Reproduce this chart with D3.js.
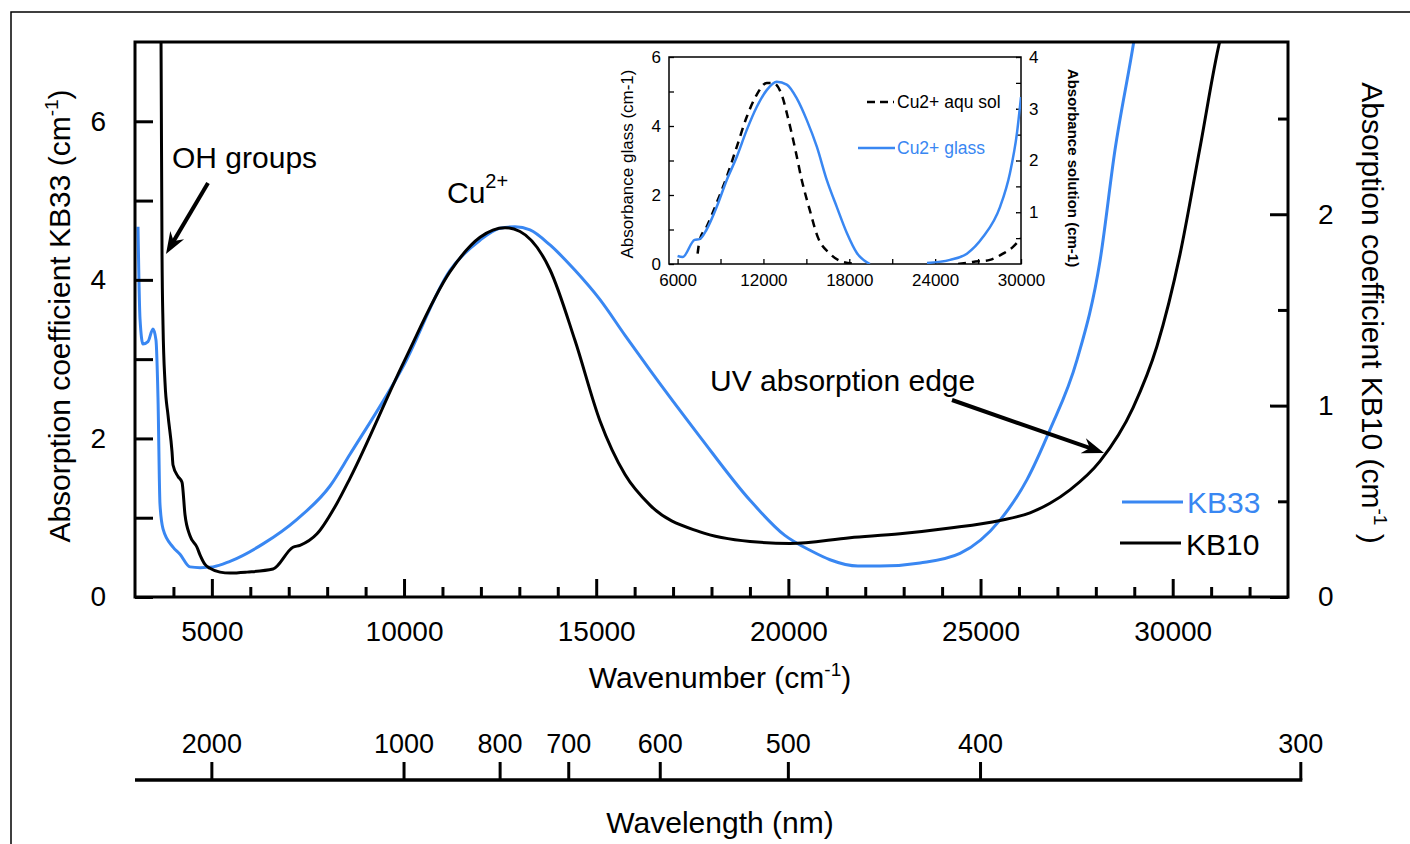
<!DOCTYPE html>
<html>
<head>
<meta charset="utf-8">
<script src="https://cdn.jsdelivr.net/npm/d3@7"></script>
<style>
  body { margin: 0; background: #fff; }
  svg { font-family: "Liberation Sans", Arial, sans-serif; }
</style>
</head>
<body>
<svg id="chart" width="1410" height="844"></svg>
<script>
// KB33 glass, left axis (cm-1)
var kb33Wn  = [3078, 3130, 3208, 3338, 3468, 3546, 3598, 3650, 3729, 3989, 4171, 4431, 4692, 5030, 5472, 6331, 7215, 8074, 8594, 10000, 11197, 11977, 12497, 12888, 13278, 13798, 14449, 15099, 15750, 16400, 17701, 19002, 19900, 20600, 21083, 21812, 22384, 23425, 24466, 25507, 26209, 26808, 27510, 28109, 28499, 28993, 29300];
var kb33Abs = [4.67, 3.51, 3.19, 3.22, 3.38, 3.24, 2.52, 1.17, 0.86, 0.63, 0.54, 0.38, 0.37, 0.38, 0.45, 0.67, 0.98, 1.40, 1.80, 2.93, 4.12, 4.50, 4.65, 4.67, 4.63, 4.44, 4.12, 3.75, 3.30, 2.86, 2.02, 1.22, 0.78, 0.58, 0.47, 0.39, 0.39, 0.43, 0.55, 0.97, 1.48, 2.11, 2.99, 4.24, 5.64, 7.02, 8.0];

// KB10 glass, right axis (cm-1)
var kb10Wn  = [3660, 3677, 3703, 3729, 3781, 3859, 3963, 3989, 4119, 4223, 4301, 4431, 4613, 4691, 4821, 4951, 5212, 5472, 5914, 6591, 7111, 7293, 7736, 8256, 8594, 10000, 11197, 11977, 12627, 13018, 13798, 14449, 15099, 15750, 16400, 17701, 19002, 20043, 21604, 22905, 24206, 25507, 26288, 26808, 27328, 28110, 28970, 29590, 30190, 30712, 31232, 31500];
var kb10Abs = [3.3, 2.91, 1.79, 1.42, 1.12, 0.95, 0.76, 0.69, 0.63, 0.60, 0.43, 0.32, 0.26, 0.22, 0.17, 0.15, 0.13, 0.125, 0.13, 0.146, 0.26, 0.27, 0.33, 0.49, 0.62, 1.23, 1.70, 1.88, 1.93, 1.91, 1.71, 1.34, 0.92, 0.64, 0.48, 0.34, 0.29, 0.28, 0.31, 0.33, 0.36, 0.40, 0.44, 0.49, 0.56, 0.71, 0.99, 1.31, 1.79, 2.35, 2.91, 3.1];

// inset: Cu2+ in glass (left inset axis), null = gap
var glassWn  = [6000, 6350, 7190, 7540, 8030, 8730, 9430, 10130, 10830, 11530, 12230, 12930, 13630, 14330, 15030, 15730, 16430, 17130, 17830, 18530, 19440, null, 23430, 25040, 26220, 27340, 28530, 29230, 29720, 30000];
var glassAbs = [0.23, 0.2, 0.7, 0.72, 1.0, 1.65, 2.43, 3.1, 3.88, 4.55, 5.04, 5.28, 5.2, 4.8, 4.17, 3.4, 2.43, 1.65, 0.9, 0.32, 0.0, null, 0.03, 0.12, 0.3, 0.78, 1.65, 2.64, 3.8, 4.84];
// inset: Cu2+ aqueous solution (right inset axis)
var solWn  = [7400, 7540, 8030, 8730, 9430, 10130, 10830, 11530, 12230, 12650, 13280, 13700, 14190, 14680, 15240, 15800, 16640, 17550, 18530, null, 25600, 26640, 27830, 28740, 29440, 30000];
var solAbs = [0.2, 0.46, 0.72, 1.18, 1.68, 2.26, 2.84, 3.27, 3.5, 3.5, 3.27, 2.84, 2.26, 1.62, 1.04, 0.52, 0.2, 0.04, 0.0, null, 0.0, 0.04, 0.08, 0.2, 0.33, 0.5];

var wavelengthTicks = [2000, 1000, 800, 700, 600, 500, 400, 300];

var blue = "#3987f2";
var svg = d3.select("#chart");

// outer frame
svg.append("rect").attr("x", 11).attr("y", 12).attr("width", 1420).attr("height", 860)
  .attr("fill", "none").attr("stroke", "#000").attr("stroke-width", 1.5);

var x = d3.scaleLinear().domain([3000, 33000]).range([135, 1288]);
var yL = d3.scaleLinear().domain([0, 7]).range([597, 42]);
var yR = d3.scaleLinear().domain([0, 2.9]).range([597, 42]);

svg.append("clipPath").attr("id", "plotclip").append("rect")
  .attr("x", 135).attr("y", 42).attr("width", 1153).attr("height", 555);

function pts(xs, ys) {
  return xs.map(function(d, i) { return [d, ys[i]]; });
}

var lineL = d3.line().defined(function(d) { return d[0] != null; })
  .x(function(d) { return x(d[0]); }).y(function(d) { return yL(d[1]); })
  .curve(d3.curveMonotoneX);
var lineR = d3.line().defined(function(d) { return d[0] != null; })
  .x(function(d) { return x(d[0]); }).y(function(d) { return yR(d[1]); })
  .curve(d3.curveMonotoneX);

var plot = svg.append("g").attr("clip-path", "url(#plotclip)");
plot.append("path").datum(pts(kb33Wn, kb33Abs)).attr("d", lineL)
  .attr("fill", "none").attr("stroke", blue).attr("stroke-width", 3);
plot.append("path").datum(pts(kb10Wn, kb10Abs)).attr("d", lineR)
  .attr("fill", "none").attr("stroke", "#000").attr("stroke-width", 3);

// axes
var tickFs = 28, titleFs = 30;
function styleAxis(g) {
  g.select(".domain").remove();
  g.selectAll(".tick line").attr("stroke", "#000").attr("stroke-width", 3);
  g.selectAll(".tick text").attr("fill", "#000").attr("font-size", tickFs)
    .attr("font-family", "Liberation Sans, Arial, sans-serif");
}

var xMinor = d3.range(4000, 33000, 1000).filter(function(v) { return v % 5000 != 0; });
svg.append("g").attr("transform", "translate(0,597)")
  .call(d3.axisBottom(x).tickValues(xMinor).tickSize(-10).tickFormat(""))
  .call(styleAxis);
svg.append("g").attr("transform", "translate(0,597)")
  .call(d3.axisBottom(x).tickValues([5000, 10000, 15000, 20000, 25000, 30000]).tickSize(-18).tickPadding(24).tickFormat(d3.format("d")))
  .call(styleAxis);

svg.append("g").attr("transform", "translate(135,0)")
  .call(d3.axisLeft(yL).tickValues([0, 1, 2, 3, 4, 5, 6]).tickSize(-18).tickPadding(29)
    .tickFormat(function(d) { return d % 2 == 0 ? d : ""; }))
  .call(styleAxis);

svg.append("g").attr("transform", "translate(1288,0)")
  .call(d3.axisRight(yR).tickValues([0.5, 1.5, 2.5]).tickSize(-10).tickFormat(""))
  .call(styleAxis);
svg.append("g").attr("transform", "translate(1288,0)")
  .call(d3.axisRight(yR).tickValues([0, 1, 2]).tickSize(-18).tickPadding(30).tickFormat(d3.format("d")))
  .call(styleAxis);

// plot frame
svg.append("rect").attr("x", 135).attr("y", 42).attr("width", 1153).attr("height", 555)
  .attr("fill", "none").attr("stroke", "#000").attr("stroke-width", 3);

// axis titles
function supTitle(t, main, close) {
  t.append("tspan").text(main);
  t.append("tspan").attr("dy", -12).attr("font-size", 19).text("-1");
  t.append("tspan").attr("dy", 12).text(close);
}
supTitle(svg.append("text").attr("transform", "translate(70,316) rotate(-90)")
  .attr("text-anchor", "middle").attr("font-size", titleFs), "Absorption coefficient KB33 (cm", ")");
supTitle(svg.append("text").attr("transform", "translate(1362,313) rotate(90)")
  .attr("text-anchor", "middle").attr("font-size", titleFs), "Absorption coefficient KB10 (cm", " )");
supTitle(svg.append("text").attr("x", 720).attr("y", 688).attr("text-anchor", "middle")
  .attr("font-size", titleFs), "Wavenumber (cm", ")");

// wavelength axis
var wl = svg.append("g");
wl.append("line").attr("x1", 135).attr("x2", x(1e7 / 300) + 1.5)
  .attr("y1", 780).attr("y2", 780).attr("stroke", "#000").attr("stroke-width", 3.5);
var wlt = wl.selectAll("g.wl").data(wavelengthTicks).enter().append("g")
  .attr("transform", function(d) { return "translate(" + x(1e7 / d) + ",780)"; });
wlt.append("line").attr("y1", 0).attr("y2", -18).attr("stroke", "#000").attr("stroke-width", 3);
wlt.append("text").attr("y", -27).attr("text-anchor", "middle").attr("font-size", 27)
  .text(function(d) { return d; });
svg.append("text").attr("x", 720).attr("y", 833).attr("text-anchor", "middle")
  .attr("font-size", titleFs).text("Wavelength (nm)");

// annotations
function arrow(x1, y1, x2, y2) {
  var a = Math.atan2(y2 - y1, x2 - x1), L = 22, W = 8;
  var bx = x2 - L * Math.cos(a), by = y2 - L * Math.sin(a);
  svg.append("line").attr("x1", x1).attr("y1", y1)
    .attr("x2", x2 - 10 * Math.cos(a)).attr("y2", y2 - 10 * Math.sin(a))
    .attr("stroke", "#000").attr("stroke-width", 4);
  var p1 = [bx + W * Math.sin(a), by - W * Math.cos(a)];
  var p2 = [bx - W * Math.sin(a), by + W * Math.cos(a)];
  var m = [x2 - 15 * Math.cos(a), y2 - 15 * Math.sin(a)];
  svg.append("path").attr("d", "M" + [x2, y2] + "L" + p1 + "L" + m + "L" + p2 + "Z").attr("fill", "#000");
}
svg.append("text").attr("x", 172).attr("y", 168).attr("font-size", titleFs).text("OH groups");
arrow(208, 183, 166, 254);
var cu = svg.append("text").attr("x", 447).attr("y", 203).attr("font-size", titleFs);
cu.append("tspan").text("Cu");
cu.append("tspan").attr("dy", -15).attr("font-size", 20).text("2+");
svg.append("text").attr("x", 710).attr("y", 391).attr("font-size", titleFs).text("UV absorption edge");
arrow(952, 400, 1104, 453);

// legend
svg.append("line").attr("x1", 1122).attr("x2", 1183).attr("y1", 502).attr("y2", 502)
  .attr("stroke", blue).attr("stroke-width", 3);
svg.append("text").attr("x", 1187).attr("y", 513).attr("font-size", titleFs).attr("fill", blue).text("KB33");
svg.append("line").attr("x1", 1120).attr("x2", 1181).attr("y1", 543).attr("y2", 543)
  .attr("stroke", "#000").attr("stroke-width", 3);
svg.append("text").attr("x", 1186).attr("y", 555).attr("font-size", titleFs).text("KB10");

// inset
var ix = d3.scaleLinear().domain([5400, 30000]).range([669, 1021]);
var iyL = d3.scaleLinear().domain([0, 6]).range([264, 57]);
var iyR = d3.scaleLinear().domain([0, 4]).range([264, 57]);

var inset = svg.append("g");
inset.append("clipPath").attr("id", "insetclip").append("rect")
  .attr("x", 669).attr("y", 57).attr("width", 352).attr("height", 207);

function styleInset(g) {
  g.select(".domain").remove();
  g.selectAll(".tick line").attr("stroke", "#000").attr("stroke-width", 1.3);
  g.selectAll(".tick text").attr("fill", "#000").attr("font-size", 17)
    .attr("font-family", "Liberation Sans, Arial, sans-serif");
}
inset.append("g").attr("transform", "translate(0,264)")
  .call(d3.axisBottom(ix).tickValues([6000, 9000, 12000, 15000, 18000, 21000, 24000, 27000, 30000]).tickSize(-5).tickPadding(10)
    .tickFormat(function(d) { return d % 6000 == 0 ? d : ""; }))
  .call(styleInset);
inset.append("g").attr("transform", "translate(669,0)")
  .call(d3.axisLeft(iyL).ticks(6).tickSize(-5).tickPadding(8)
    .tickFormat(function(d) { return d % 2 == 0 ? d : ""; }))
  .call(styleInset);
inset.append("g").attr("transform", "translate(1021,0)")
  .call(d3.axisRight(iyR).tickValues(d3.range(0.5, 4.5, 0.5)).tickSize(-5).tickPadding(8)
    .tickFormat(function(d) { return d % 1 == 0 ? d : ""; }))
  .call(styleInset);
inset.append("rect").attr("x", 669).attr("y", 57).attr("width", 352).attr("height", 207)
  .attr("fill", "none").attr("stroke", "#000").attr("stroke-width", 1.5);

var iLineL = d3.line().defined(function(d) { return d[0] != null; })
  .x(function(d) { return ix(d[0]); }).y(function(d) { return iyL(d[1]); })
  .curve(d3.curveMonotoneX);
var iLineR = d3.line().defined(function(d) { return d[0] != null; })
  .x(function(d) { return ix(d[0]); }).y(function(d) { return iyR(d[1]); })
  .curve(d3.curveMonotoneX);
var ic = inset.append("g").attr("clip-path", "url(#insetclip)");
ic.append("path").datum(pts(solWn, solAbs)).attr("d", iLineR)
  .attr("fill", "none").attr("stroke", "#000").attr("stroke-width", 2.5).attr("stroke-dasharray", "8,6");
ic.append("path").datum(pts(glassWn, glassAbs)).attr("d", iLineL)
  .attr("fill", "none").attr("stroke", blue).attr("stroke-width", 2.5);

inset.append("text").attr("transform", "translate(633,164) rotate(-90)")
  .attr("text-anchor", "middle").attr("font-size", 17).text("Absorbance glass (cm-1)");
inset.append("text").attr("transform", "translate(1068,168) rotate(90)")
  .attr("text-anchor", "middle").attr("font-size", 15).attr("font-weight", "bold")
  .text("Absorbance solution (cm-1)");

inset.append("line").attr("x1", 867).attr("x2", 894).attr("y1", 102).attr("y2", 102)
  .attr("stroke", "#000").attr("stroke-width", 2.5).attr("stroke-dasharray", "8,5");
inset.append("text").attr("x", 897).attr("y", 108).attr("font-size", 17.5).text("Cu2+ aqu sol");
inset.append("line").attr("x1", 858).attr("x2", 895).attr("y1", 148).attr("y2", 148)
  .attr("stroke", blue).attr("stroke-width", 2.5);
inset.append("text").attr("x", 897).attr("y", 154).attr("font-size", 17.5).attr("fill", blue).text("Cu2+ glass");
</script>
</body>
</html>
